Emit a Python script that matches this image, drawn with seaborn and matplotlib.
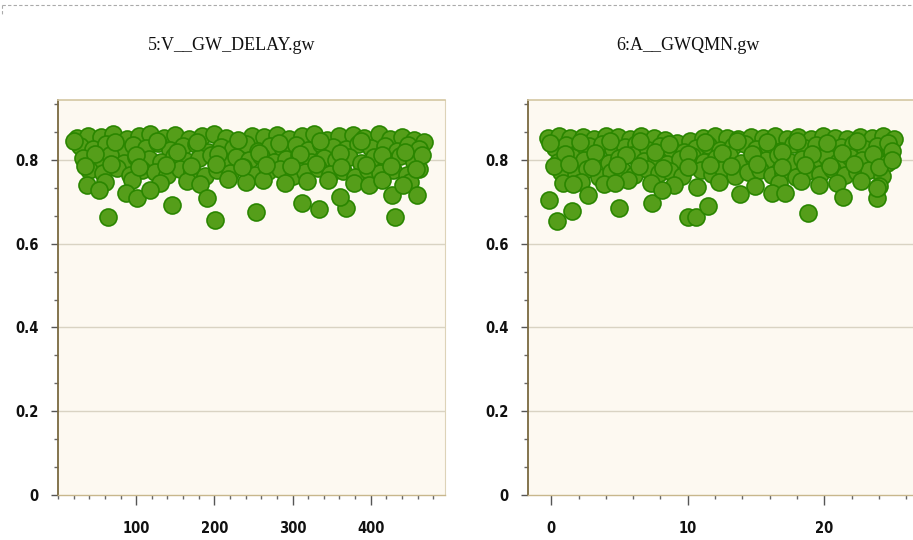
import matplotlib
matplotlib.use("Agg")
import matplotlib.pyplot as plt
import pandas as pd
import seaborn as sns
from matplotlib.lines import Line2D
from matplotlib.ticker import AutoMinorLocator, MultipleLocator

# ---- data ----
TITLES = ["5:V__GW_DELAY.gw", "6:A__GWQMN.gw"]
Y_TICKS = [0, 0.2, 0.4, 0.6, 0.8]
Y_TICK_LABELS = ["0", "0.2", "0.4", "0.6", "0.8"]

# panel 5 (V__GW_DELAY)
delay_x = [
    24, 38, 55, 70, 88, 104, 118, 135, 150, 168, 184, 199, 215, 232, 248, 263, 280, 296, 312, 328,
    344, 360, 377, 392, 410, 425, 440, 455, 468,
    28, 45, 62, 80, 96, 112, 128, 143, 160, 176, 192, 208, 224, 240, 256, 271, 288, 304, 320, 336,
    352, 368, 384, 400, 418, 433, 448, 462,
    32, 50, 66, 84, 100, 116, 132, 148, 164, 180, 196, 212, 228, 244, 260, 276, 292, 308, 324, 340,
    356, 372, 388, 404, 420, 438, 455,
    40, 58, 76, 92, 108, 124, 140, 156, 172, 188, 204, 220, 236, 252, 268, 284, 300, 316, 332, 348,
    364, 380, 396, 412, 428, 446, 462,
    60, 95, 130, 165, 182, 218, 240, 262, 290, 318, 345, 378, 398, 415, 450,
    20, 47, 73, 100, 126, 152, 178, 205, 230, 257, 283, 309, 335, 361, 387, 414, 444, 466,
    35, 68, 104, 138, 170, 202, 235, 266, 298, 330, 362, 394, 426, 458,
    64, 201, 253, 312, 334, 369, 431, 146, 361, 459, 37, 53, 87, 101, 118, 190, 427, 441,
]
delay_y = [
    0.852, 0.858, 0.855, 0.861, 0.850, 0.857, 0.862, 0.853, 0.859, 0.849, 0.856, 0.861, 0.852, 0.846,
    0.858, 0.855, 0.860, 0.851, 0.857, 0.862, 0.848, 0.856, 0.859, 0.853, 0.861, 0.850, 0.855, 0.847,
    0.843,
    0.832, 0.826, 0.838, 0.821, 0.835, 0.829, 0.840, 0.824, 0.833, 0.837, 0.820, 0.831, 0.828, 0.839,
    0.822, 0.834, 0.827, 0.836, 0.823, 0.838, 0.830, 0.825, 0.837, 0.829, 0.834, 0.821, 0.836, 0.827,
    0.805, 0.798, 0.811, 0.793, 0.807, 0.801, 0.795, 0.810, 0.797, 0.804, 0.812, 0.792, 0.806, 0.799,
    0.809, 0.794, 0.803, 0.811, 0.796, 0.805, 0.800, 0.808, 0.793, 0.806, 0.799, 0.810, 0.795,
    0.775, 0.768, 0.781, 0.763, 0.777, 0.770, 0.765, 0.779, 0.772, 0.761, 0.776, 0.769, 0.782, 0.764,
    0.774, 0.778, 0.762, 0.771, 0.780, 0.766, 0.773, 0.760, 0.777, 0.769, 0.775, 0.763, 0.779,
    0.748, 0.752, 0.745, 0.750, 0.742, 0.755, 0.747, 0.751, 0.744, 0.749, 0.753, 0.746, 0.741, 0.752,
    0.748,
    0.845, 0.815, 0.842, 0.812, 0.846, 0.818, 0.843, 0.814, 0.848, 0.817, 0.841, 0.813, 0.846, 0.816,
    0.844, 0.812, 0.820, 0.812,
    0.785, 0.790, 0.783, 0.788, 0.786, 0.791, 0.784, 0.789, 0.785, 0.790, 0.783, 0.788, 0.786, 0.778,
    0.664, 0.657, 0.676, 0.697, 0.683, 0.685, 0.664, 0.693, 0.712, 0.716, 0.740, 0.728, 0.721, 0.709,
    0.728, 0.709, 0.716, 0.740,
]

# panel 6 (A__GWQMN)
gwqmn_x = [
    -0.2, 0.6, 1.4, 2.3, 3.1, 4.0, 4.9, 5.8, 6.6, 7.5, 8.3, 9.2, 10.2, 11.1, 12.0, 12.9, 13.7, 14.6,
    15.5, 16.4, 17.3, 18.1, 19.0, 19.9, 20.8, 21.7, 22.6, 23.5, 24.3, 25.1,
    0.3, 1.1, 2.0, 2.8, 3.7, 4.5, 5.4, 6.2, 7.1, 8.0, 8.8, 9.7, 10.6, 11.5, 12.4, 13.3, 14.2, 15.0,
    15.9, 16.8, 17.7, 18.6, 19.4, 20.3, 21.2, 22.1, 23.0, 23.9, 24.8,
    0.5, 1.5, 2.4, 3.3, 4.2, 5.0, 5.9, 6.8, 7.7, 8.5, 9.4, 10.3, 11.2, 12.1, 13.0, 13.9, 14.8, 15.7,
    16.6, 17.5, 18.4, 19.2, 20.1, 21.0, 21.9, 22.8, 23.7, 24.6,
    0.7, 1.8, 2.6, 3.5, 4.4, 5.2, 6.1, 7.0, 7.9, 8.7, 9.6, 11.0, 11.8, 12.6, 13.5, 14.4, 15.3, 16.2,
    17.0, 17.9, 18.8, 19.7, 20.6, 21.5, 22.4, 23.3, 24.2,
    2.2, 3.9, 5.6, 7.3, 9.0, 12.3, 14.9, 16.7, 18.3, 19.6, 20.9, 22.7, 24.0,
    -0.1, 1.0, 2.1, 3.2, 4.3, 5.5, 6.5, 7.6, 8.6, 10.0, 11.3, 12.5, 13.6, 14.7, 15.8, 16.9, 18.0,
    19.1, 20.2, 21.3, 22.4, 23.6, 24.7,
    0.2, 1.3, 3.0, 4.8, 6.4, 8.2, 10.0, 11.6, 13.2, 15.1, 16.9, 18.6, 20.4, 22.2, 24.0, 25.0,
    -0.15, 0.44, 1.5, 2.7, 5.0, 7.4, 10.0, 10.6, 11.5, 10.7, 13.8, 18.8, 21.4, 23.9, 23.9, 16.2, 17.1,
    0.9, 1.6, 4.7, 8.1, 25.0,
]
gwqmn_y = [
    0.853, 0.856, 0.852, 0.855, 0.850, 0.856, 0.854, 0.851, 0.856, 0.853, 0.848, 0.840, 0.845, 0.852,
    0.856, 0.853, 0.850, 0.855, 0.852, 0.856, 0.849, 0.854, 0.851, 0.856, 0.853, 0.850, 0.855, 0.852,
    0.856, 0.849,
    0.828, 0.836, 0.822, 0.833, 0.838, 0.825, 0.831, 0.839, 0.823, 0.834, 0.827, 0.818, 0.829, 0.836,
    0.824, 0.832, 0.838, 0.826, 0.833, 0.821, 0.837, 0.829, 0.835, 0.823, 0.831, 0.838, 0.826, 0.834,
    0.822,
    0.795, 0.808, 0.799, 0.811, 0.793, 0.804, 0.812, 0.797, 0.806, 0.791, 0.802, 0.809, 0.796, 0.805,
    0.812, 0.793, 0.807, 0.800, 0.811, 0.795, 0.803, 0.797, 0.810, 0.794, 0.806, 0.799, 0.808, 0.792,
    0.772, 0.765, 0.778, 0.760, 0.770, 0.776, 0.763, 0.779, 0.768, 0.774, 0.761, 0.775, 0.766, 0.779,
    0.762, 0.771, 0.777, 0.764, 0.769, 0.758, 0.773, 0.767, 0.779, 0.763, 0.770, 0.776, 0.761,
    0.748, 0.742, 0.751, 0.745, 0.740, 0.747, 0.738, 0.744, 0.750, 0.741, 0.746, 0.749, 0.737,
    0.840, 0.815, 0.842, 0.817, 0.844, 0.812, 0.846, 0.818, 0.838, 0.815, 0.843, 0.816, 0.845, 0.813,
    0.842, 0.818, 0.846, 0.814, 0.841, 0.817, 0.845, 0.813, 0.840,
    0.785, 0.790, 0.783, 0.788, 0.786, 0.781, 0.784, 0.789, 0.785, 0.790, 0.783, 0.788, 0.786, 0.791,
    0.784, 0.822,
    0.704, 0.654, 0.678, 0.716, 0.685, 0.697, 0.664, 0.664, 0.690, 0.735, 0.719, 0.673, 0.712, 0.709,
    0.733, 0.721, 0.721, 0.745, 0.742, 0.745, 0.728, 0.800,
]

PANELS = [
    (TITLES[0], delay_x, delay_y, (0, 495), [100, 200, 300, 400], 20),
    (TITLES[1], gwqmn_x, gwqmn_y, (-1.7, 26.65), [0, 10, 20], 2),
]

DOT = "#559e1a"
DOT_EDGE = "#2a8600"
PANEL_BG = "#fdf9f1"
GRID = "#d9d3c3"

sns.set_style("white")
plt.rcParams["font.family"] = ["DejaVu Sans"]

W, H = 913, 540
fig = plt.figure(figsize=(W / 100, H / 100), dpi=100)
fig.patch.set_facecolor("white")

boxes = [(58, 445), (528, 915)]
top_px, bot_px = 100, 495

for (title, xs, ys, xlim, xmaj, xmin), (x0, x1) in zip(PANELS, boxes):
    ax = fig.add_axes([x0 / W, 1 - bot_px / H, (x1 - x0) / W, (bot_px - top_px) / H])
    ax.set_facecolor(PANEL_BG)
    df = pd.DataFrame({"x": xs, "y": ys})
    sns.scatterplot(data=df, x="x", y="y", ax=ax, s=150, color=DOT,
                    edgecolor=DOT_EDGE, linewidth=1.2, zorder=3, legend=False)
    ax.set_xlim(*xlim)
    ax.set_ylim(0, 0.943)
    ax.set_xlabel("")
    ax.set_ylabel("")

    ax.set_yticks(Y_TICKS)
    ax.set_yticklabels(Y_TICK_LABELS)
    ax.yaxis.set_minor_locator(AutoMinorLocator(3))
    ax.set_xticks(xmaj)
    ax.set_xticklabels([str(v) for v in xmaj])
    ax.xaxis.set_minor_locator(MultipleLocator(xmin))

    for v in Y_TICKS[1:]:
        ax.axhline(v, color=GRID, lw=1.0, zorder=1)

    ax.tick_params(axis="both", which="major", direction="out", length=5, width=1,
                   color="#555555", labelsize=10.5, pad=9, labelcolor="#111111")
    ax.tick_params(axis="x", which="major", length=7, pad=12)
    ax.tick_params(axis="both", which="minor", direction="out", length=3, width=1,
                   color="#666666")
    ax.tick_params(left=True, bottom=True, which="both")
    for lab in ax.get_xticklabels() + ax.get_yticklabels():
        lab.set_fontstretch("condensed")
        lab.set_fontweight("semibold")

    ax.spines["left"].set_color("#7a6940")
    ax.spines["left"].set_linewidth(1.3)
    ax.spines["bottom"].set_color("#c8b78c")
    ax.spines["bottom"].set_linewidth(1.0)
    ax.spines["top"].set_color("#d4c7a2")
    ax.spines["top"].set_linewidth(1.2)
    ax.spines["right"].set_color("#ddd3b8")
    ax.spines["right"].set_linewidth(0.8)

# panel titles
title_centres = [232, 688]
for t, cx in zip(TITLES, title_centres):
    fig.text(cx / W, 1 - 45 / H, t, ha="center", va="center", fontsize=13,
             family=["Liberation Serif", "DejaVu Serif"], color="#111111")

# dashed frame along the top of the page
fig.add_artist(Line2D([2 / W, 1], [1 - 5 / H, 1 - 5 / H], transform=fig.transFigure,
                      color="#aaaaaa", lw=0.8, ls=(0, (3, 2))))
fig.add_artist(Line2D([2 / W, 2 / W], [1 - 5 / H, 1 - 14 / H], transform=fig.transFigure,
                      color="#aaaaaa", lw=0.8, ls=(0, (3, 2))))

fig.savefig("out.png", dpi=100, facecolor=fig.get_facecolor())
